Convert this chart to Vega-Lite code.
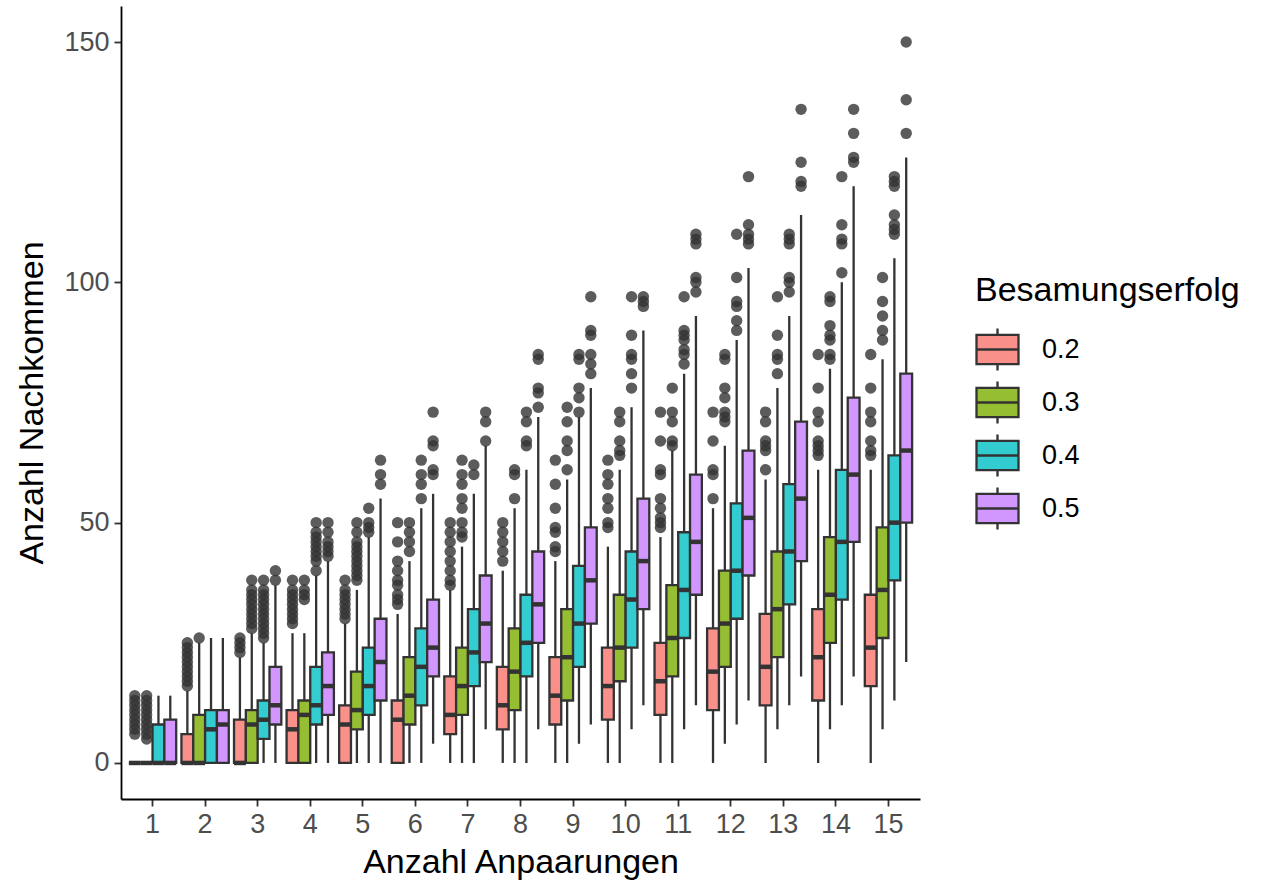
{
  "$schema": "https://vega.github.io/schema/vega-lite/v6.json",
  "width": 799,
  "height": 793,
  "autosize": {"type": "none"},
  "padding": {"left": 121, "top": 6, "right": 341, "bottom": 86},
  "background": "white",
  "config": {
    "view": {"stroke": null},
    "font": "Liberation Sans",
    "axis": {
      "grid": false,
      "domainColor": "black",
      "domainWidth": 1.8,
      "tickColor": "#333333",
      "tickWidth": 1.8,
      "tickSize": 7,
      "labelFont": "Liberation Sans",
      "labelFontSize": 27,
      "labelColor": "#4D4D4D",
      "titleFont": "Liberation Sans",
      "titleFontSize": 34,
      "titleFontWeight": "normal",
      "titleColor": "black"
    }
  },
  "datasets": {
    "boxes": [
      {"n":1,"g":"0.2","lo":0,"q1":0,"med":0,"q3":0,"hi":0},
      {"n":1,"g":"0.3","lo":0,"q1":0,"med":0,"q3":0,"hi":0},
      {"n":1,"g":"0.4","lo":0,"q1":0,"med":0,"q3":8,"hi":14},
      {"n":1,"g":"0.5","lo":0,"q1":0,"med":0,"q3":9,"hi":14},
      {"n":2,"g":"0.2","lo":0,"q1":0,"med":0,"q3":6,"hi":15},
      {"n":2,"g":"0.3","lo":0,"q1":0,"med":0,"q3":10,"hi":25},
      {"n":2,"g":"0.4","lo":0,"q1":0,"med":7,"q3":11,"hi":26},
      {"n":2,"g":"0.5","lo":0,"q1":0,"med":8,"q3":11,"hi":26},
      {"n":3,"g":"0.2","lo":0,"q1":0,"med":0,"q3":9,"hi":22},
      {"n":3,"g":"0.3","lo":0,"q1":0,"med":8,"q3":11,"hi":27},
      {"n":3,"g":"0.4","lo":0,"q1":5,"med":9,"q3":13,"hi":25},
      {"n":3,"g":"0.5","lo":0,"q1":8,"med":12,"q3":20,"hi":37},
      {"n":4,"g":"0.2","lo":0,"q1":0,"med":7,"q3":11,"hi":27},
      {"n":4,"g":"0.3","lo":0,"q1":0,"med":10,"q3":13,"hi":27},
      {"n":4,"g":"0.4","lo":0,"q1":8,"med":12,"q3":20,"hi":39},
      {"n":4,"g":"0.5","lo":0,"q1":10,"med":16,"q3":23,"hi":42},
      {"n":5,"g":"0.2","lo":0,"q1":0,"med":8,"q3":12,"hi":29},
      {"n":5,"g":"0.3","lo":0,"q1":7,"med":11,"q3":19,"hi":36},
      {"n":5,"g":"0.4","lo":0,"q1":10,"med":16,"q3":24,"hi":47},
      {"n":5,"g":"0.5","lo":0,"q1":13,"med":21,"q3":30,"hi":55},
      {"n":6,"g":"0.2","lo":0,"q1":0,"med":9,"q3":13,"hi":31},
      {"n":6,"g":"0.3","lo":0,"q1":8,"med":14,"q3":22,"hi":42},
      {"n":6,"g":"0.4","lo":0,"q1":12,"med":20,"q3":28,"hi":53},
      {"n":6,"g":"0.5","lo":4,"q1":18,"med":24,"q3":34,"hi":56},
      {"n":7,"g":"0.2","lo":0,"q1":6,"med":10,"q3":18,"hi":36},
      {"n":7,"g":"0.3","lo":0,"q1":10,"med":16,"q3":24,"hi":45},
      {"n":7,"g":"0.4","lo":0,"q1":16,"med":23,"q3":32,"hi":56},
      {"n":7,"g":"0.5","lo":7,"q1":21,"med":29,"q3":39,"hi":66},
      {"n":8,"g":"0.2","lo":0,"q1":7,"med":12,"q3":20,"hi":40},
      {"n":8,"g":"0.3","lo":0,"q1":11,"med":19,"q3":28,"hi":53},
      {"n":8,"g":"0.4","lo":0,"q1":18,"med":25,"q3":35,"hi":61},
      {"n":8,"g":"0.5","lo":7,"q1":25,"med":33,"q3":44,"hi":72},
      {"n":9,"g":"0.2","lo":0,"q1":8,"med":14,"q3":22,"hi":42},
      {"n":9,"g":"0.3","lo":0,"q1":13,"med":22,"q3":32,"hi":59},
      {"n":9,"g":"0.4","lo":4,"q1":20,"med":29,"q3":41,"hi":72},
      {"n":9,"g":"0.5","lo":8,"q1":29,"med":38,"q3":49,"hi":78},
      {"n":10,"g":"0.2","lo":0,"q1":9,"med":16,"q3":24,"hi":45},
      {"n":10,"g":"0.3","lo":0,"q1":17,"med":24,"q3":35,"hi":61},
      {"n":10,"g":"0.4","lo":7,"q1":24,"med":34,"q3":44,"hi":74},
      {"n":10,"g":"0.5","lo":12,"q1":32,"med":42,"q3":55,"hi":90},
      {"n":11,"g":"0.2","lo":0,"q1":10,"med":17,"q3":25,"hi":47},
      {"n":11,"g":"0.3","lo":0,"q1":18,"med":26,"q3":37,"hi":65},
      {"n":11,"g":"0.4","lo":7,"q1":26,"med":36,"q3":48,"hi":81},
      {"n":11,"g":"0.5","lo":12,"q1":35,"med":46,"q3":60,"hi":93},
      {"n":12,"g":"0.2","lo":0,"q1":11,"med":19,"q3":28,"hi":53},
      {"n":12,"g":"0.3","lo":4,"q1":20,"med":29,"q3":40,"hi":66},
      {"n":12,"g":"0.4","lo":8,"q1":30,"med":40,"q3":54,"hi":88},
      {"n":12,"g":"0.5","lo":13,"q1":39,"med":51,"q3":65,"hi":103},
      {"n":13,"g":"0.2","lo":0,"q1":12,"med":20,"q3":31,"hi":59},
      {"n":13,"g":"0.3","lo":7,"q1":22,"med":32,"q3":44,"hi":78},
      {"n":13,"g":"0.4","lo":12,"q1":33,"med":44,"q3":58,"hi":93},
      {"n":13,"g":"0.5","lo":18,"q1":42,"med":55,"q3":71,"hi":114},
      {"n":14,"g":"0.2","lo":0,"q1":13,"med":22,"q3":32,"hi":61},
      {"n":14,"g":"0.3","lo":7,"q1":25,"med":35,"q3":47,"hi":82},
      {"n":14,"g":"0.4","lo":12,"q1":34,"med":46,"q3":61,"hi":100},
      {"n":14,"g":"0.5","lo":18,"q1":46,"med":60,"q3":76,"hi":120},
      {"n":15,"g":"0.2","lo":0,"q1":16,"med":24,"q3":35,"hi":61},
      {"n":15,"g":"0.3","lo":7,"q1":26,"med":36,"q3":49,"hi":84},
      {"n":15,"g":"0.4","lo":13,"q1":38,"med":50,"q3":64,"hi":105},
      {"n":15,"g":"0.5","lo":21,"q1":50,"med":65,"q3":81,"hi":126}
    ],
    "outliers": [
      {"n":1,"g":"0.2","v":6},{"n":1,"g":"0.2","v":7},{"n":1,"g":"0.2","v":8},{"n":1,"g":"0.2","v":9},{"n":1,"g":"0.2","v":10},{"n":1,"g":"0.2","v":11},{"n":1,"g":"0.2","v":12},{"n":1,"g":"0.2","v":13},{"n":1,"g":"0.2","v":14},
      {"n":1,"g":"0.3","v":5},{"n":1,"g":"0.3","v":6},{"n":1,"g":"0.3","v":7},{"n":1,"g":"0.3","v":8},{"n":1,"g":"0.3","v":9},{"n":1,"g":"0.3","v":10},{"n":1,"g":"0.3","v":11},{"n":1,"g":"0.3","v":12},{"n":1,"g":"0.3","v":13},{"n":1,"g":"0.3","v":14},
      {"n":2,"g":"0.2","v":16},{"n":2,"g":"0.2","v":17},{"n":2,"g":"0.2","v":18},{"n":2,"g":"0.2","v":19},{"n":2,"g":"0.2","v":20},{"n":2,"g":"0.2","v":21},{"n":2,"g":"0.2","v":22},{"n":2,"g":"0.2","v":23},{"n":2,"g":"0.2","v":24},{"n":2,"g":"0.2","v":25},
      {"n":2,"g":"0.3","v":26},
      {"n":3,"g":"0.2","v":23},{"n":3,"g":"0.2","v":24},{"n":3,"g":"0.2","v":25},{"n":3,"g":"0.2","v":26},
      {"n":3,"g":"0.3","v":28},{"n":3,"g":"0.3","v":29},{"n":3,"g":"0.3","v":30},{"n":3,"g":"0.3","v":31},{"n":3,"g":"0.3","v":32},{"n":3,"g":"0.3","v":33},{"n":3,"g":"0.3","v":34},{"n":3,"g":"0.3","v":35},{"n":3,"g":"0.3","v":36},{"n":3,"g":"0.3","v":38},
      {"n":3,"g":"0.4","v":26},{"n":3,"g":"0.4","v":27},{"n":3,"g":"0.4","v":28},{"n":3,"g":"0.4","v":29},{"n":3,"g":"0.4","v":30},{"n":3,"g":"0.4","v":31},{"n":3,"g":"0.4","v":32},{"n":3,"g":"0.4","v":33},{"n":3,"g":"0.4","v":34},{"n":3,"g":"0.4","v":35},{"n":3,"g":"0.4","v":36},{"n":3,"g":"0.4","v":38},
      {"n":3,"g":"0.5","v":38},{"n":3,"g":"0.5","v":40},
      {"n":4,"g":"0.2","v":29},{"n":4,"g":"0.2","v":30},{"n":4,"g":"0.2","v":31},{"n":4,"g":"0.2","v":32},{"n":4,"g":"0.2","v":33},{"n":4,"g":"0.2","v":34},{"n":4,"g":"0.2","v":35},{"n":4,"g":"0.2","v":36},{"n":4,"g":"0.2","v":38},
      {"n":4,"g":"0.3","v":34},{"n":4,"g":"0.3","v":35},{"n":4,"g":"0.3","v":36},{"n":4,"g":"0.3","v":38},
      {"n":4,"g":"0.4","v":40},{"n":4,"g":"0.4","v":42},{"n":4,"g":"0.4","v":43},{"n":4,"g":"0.4","v":44},{"n":4,"g":"0.4","v":45},{"n":4,"g":"0.4","v":46},{"n":4,"g":"0.4","v":47},{"n":4,"g":"0.4","v":48},{"n":4,"g":"0.4","v":50},
      {"n":4,"g":"0.5","v":43},{"n":4,"g":"0.5","v":44},{"n":4,"g":"0.5","v":45},{"n":4,"g":"0.5","v":46},{"n":4,"g":"0.5","v":48},{"n":4,"g":"0.5","v":50},
      {"n":5,"g":"0.2","v":30},{"n":5,"g":"0.2","v":31},{"n":5,"g":"0.2","v":32},{"n":5,"g":"0.2","v":33},{"n":5,"g":"0.2","v":34},{"n":5,"g":"0.2","v":35},{"n":5,"g":"0.2","v":36},{"n":5,"g":"0.2","v":38},
      {"n":5,"g":"0.3","v":38},{"n":5,"g":"0.3","v":39},{"n":5,"g":"0.3","v":40},{"n":5,"g":"0.3","v":41},{"n":5,"g":"0.3","v":42},{"n":5,"g":"0.3","v":43},{"n":5,"g":"0.3","v":44},{"n":5,"g":"0.3","v":45},{"n":5,"g":"0.3","v":46},{"n":5,"g":"0.3","v":48},{"n":5,"g":"0.3","v":50},
      {"n":5,"g":"0.4","v":48},{"n":5,"g":"0.4","v":49},{"n":5,"g":"0.4","v":50},{"n":5,"g":"0.4","v":53},
      {"n":5,"g":"0.5","v":58},{"n":5,"g":"0.5","v":60},{"n":5,"g":"0.5","v":63},
      {"n":6,"g":"0.2","v":33},{"n":6,"g":"0.2","v":34},{"n":6,"g":"0.2","v":35},{"n":6,"g":"0.2","v":37},{"n":6,"g":"0.2","v":38},{"n":6,"g":"0.2","v":40},{"n":6,"g":"0.2","v":42},{"n":6,"g":"0.2","v":46},{"n":6,"g":"0.2","v":50},
      {"n":6,"g":"0.3","v":44},{"n":6,"g":"0.3","v":46},{"n":6,"g":"0.3","v":48},{"n":6,"g":"0.3","v":50},
      {"n":6,"g":"0.4","v":55},{"n":6,"g":"0.4","v":58},{"n":6,"g":"0.4","v":60},{"n":6,"g":"0.4","v":63},
      {"n":6,"g":"0.5","v":60},{"n":6,"g":"0.5","v":61},{"n":6,"g":"0.5","v":66},{"n":6,"g":"0.5","v":67},{"n":6,"g":"0.5","v":73},
      {"n":7,"g":"0.2","v":37},{"n":7,"g":"0.2","v":38},{"n":7,"g":"0.2","v":40},{"n":7,"g":"0.2","v":42},{"n":7,"g":"0.2","v":44},{"n":7,"g":"0.2","v":46},{"n":7,"g":"0.2","v":48},{"n":7,"g":"0.2","v":50},
      {"n":7,"g":"0.3","v":47},{"n":7,"g":"0.3","v":48},{"n":7,"g":"0.3","v":50},{"n":7,"g":"0.3","v":53},{"n":7,"g":"0.3","v":55},{"n":7,"g":"0.3","v":58},{"n":7,"g":"0.3","v":60},{"n":7,"g":"0.3","v":63},
      {"n":7,"g":"0.4","v":60},{"n":7,"g":"0.4","v":62},
      {"n":7,"g":"0.5","v":67},{"n":7,"g":"0.5","v":71},{"n":7,"g":"0.5","v":73},
      {"n":8,"g":"0.2","v":42},{"n":8,"g":"0.2","v":44},{"n":8,"g":"0.2","v":46},{"n":8,"g":"0.2","v":48},{"n":8,"g":"0.2","v":50},
      {"n":8,"g":"0.3","v":55},{"n":8,"g":"0.3","v":60},{"n":8,"g":"0.3","v":61},
      {"n":8,"g":"0.4","v":66},{"n":8,"g":"0.4","v":67},{"n":8,"g":"0.4","v":71},{"n":8,"g":"0.4","v":73},
      {"n":8,"g":"0.5","v":74},{"n":8,"g":"0.5","v":77},{"n":8,"g":"0.5","v":78},{"n":8,"g":"0.5","v":84},{"n":8,"g":"0.5","v":85},
      {"n":9,"g":"0.2","v":44},{"n":9,"g":"0.2","v":45},{"n":9,"g":"0.2","v":48},{"n":9,"g":"0.2","v":49},{"n":9,"g":"0.2","v":53},{"n":9,"g":"0.2","v":58},{"n":9,"g":"0.2","v":63},
      {"n":9,"g":"0.3","v":61},{"n":9,"g":"0.3","v":65},{"n":9,"g":"0.3","v":67},{"n":9,"g":"0.3","v":71},{"n":9,"g":"0.3","v":74},
      {"n":9,"g":"0.4","v":73},{"n":9,"g":"0.4","v":76},{"n":9,"g":"0.4","v":78},{"n":9,"g":"0.4","v":84},{"n":9,"g":"0.4","v":85},
      {"n":9,"g":"0.5","v":81},{"n":9,"g":"0.5","v":83},{"n":9,"g":"0.5","v":85},{"n":9,"g":"0.5","v":89},{"n":9,"g":"0.5","v":90},{"n":9,"g":"0.5","v":97},
      {"n":10,"g":"0.2","v":49},{"n":10,"g":"0.2","v":50},{"n":10,"g":"0.2","v":53},{"n":10,"g":"0.2","v":55},{"n":10,"g":"0.2","v":58},{"n":10,"g":"0.2","v":60},{"n":10,"g":"0.2","v":63},
      {"n":10,"g":"0.3","v":64},{"n":10,"g":"0.3","v":65},{"n":10,"g":"0.3","v":67},{"n":10,"g":"0.3","v":71},{"n":10,"g":"0.3","v":73},
      {"n":10,"g":"0.4","v":78},{"n":10,"g":"0.4","v":81},{"n":10,"g":"0.4","v":84},{"n":10,"g":"0.4","v":85},{"n":10,"g":"0.4","v":89},{"n":10,"g":"0.4","v":97},
      {"n":10,"g":"0.5","v":95},{"n":10,"g":"0.5","v":96},{"n":10,"g":"0.5","v":97},
      {"n":11,"g":"0.2","v":49},{"n":11,"g":"0.2","v":50},{"n":11,"g":"0.2","v":51},{"n":11,"g":"0.2","v":53},{"n":11,"g":"0.2","v":55},{"n":11,"g":"0.2","v":60},{"n":11,"g":"0.2","v":61},{"n":11,"g":"0.2","v":67},{"n":11,"g":"0.2","v":73},
      {"n":11,"g":"0.3","v":66},{"n":11,"g":"0.3","v":67},{"n":11,"g":"0.3","v":71},{"n":11,"g":"0.3","v":73},{"n":11,"g":"0.3","v":78},
      {"n":11,"g":"0.4","v":83},{"n":11,"g":"0.4","v":85},{"n":11,"g":"0.4","v":86},{"n":11,"g":"0.4","v":88},{"n":11,"g":"0.4","v":89},{"n":11,"g":"0.4","v":90},{"n":11,"g":"0.4","v":97},
      {"n":11,"g":"0.5","v":98},{"n":11,"g":"0.5","v":100},{"n":11,"g":"0.5","v":101},{"n":11,"g":"0.5","v":108},{"n":11,"g":"0.5","v":109},{"n":11,"g":"0.5","v":110},
      {"n":12,"g":"0.2","v":55},{"n":12,"g":"0.2","v":60},{"n":12,"g":"0.2","v":61},{"n":12,"g":"0.2","v":67},{"n":12,"g":"0.2","v":73},
      {"n":12,"g":"0.3","v":71},{"n":12,"g":"0.3","v":72},{"n":12,"g":"0.3","v":73},{"n":12,"g":"0.3","v":76},{"n":12,"g":"0.3","v":78},{"n":12,"g":"0.3","v":84},{"n":12,"g":"0.3","v":85},
      {"n":12,"g":"0.4","v":90},{"n":12,"g":"0.4","v":92},{"n":12,"g":"0.4","v":95},{"n":12,"g":"0.4","v":96},{"n":12,"g":"0.4","v":101},{"n":12,"g":"0.4","v":110},
      {"n":12,"g":"0.5","v":108},{"n":12,"g":"0.5","v":109},{"n":12,"g":"0.5","v":110},{"n":12,"g":"0.5","v":112},{"n":12,"g":"0.5","v":122},
      {"n":13,"g":"0.2","v":61},{"n":13,"g":"0.2","v":65},{"n":13,"g":"0.2","v":66},{"n":13,"g":"0.2","v":67},{"n":13,"g":"0.2","v":71},{"n":13,"g":"0.2","v":73},
      {"n":13,"g":"0.3","v":81},{"n":13,"g":"0.3","v":84},{"n":13,"g":"0.3","v":85},{"n":13,"g":"0.3","v":89},{"n":13,"g":"0.3","v":97},
      {"n":13,"g":"0.4","v":98},{"n":13,"g":"0.4","v":100},{"n":13,"g":"0.4","v":101},{"n":13,"g":"0.4","v":108},{"n":13,"g":"0.4","v":109},{"n":13,"g":"0.4","v":110},
      {"n":13,"g":"0.5","v":120},{"n":13,"g":"0.5","v":121},{"n":13,"g":"0.5","v":125},{"n":13,"g":"0.5","v":136},
      {"n":14,"g":"0.2","v":64},{"n":14,"g":"0.2","v":65},{"n":14,"g":"0.2","v":66},{"n":14,"g":"0.2","v":67},{"n":14,"g":"0.2","v":71},{"n":14,"g":"0.2","v":73},{"n":14,"g":"0.2","v":78},{"n":14,"g":"0.2","v":85},
      {"n":14,"g":"0.3","v":84},{"n":14,"g":"0.3","v":85},{"n":14,"g":"0.3","v":88},{"n":14,"g":"0.3","v":89},{"n":14,"g":"0.3","v":91},{"n":14,"g":"0.3","v":96},{"n":14,"g":"0.3","v":97},
      {"n":14,"g":"0.4","v":102},{"n":14,"g":"0.4","v":108},{"n":14,"g":"0.4","v":109},{"n":14,"g":"0.4","v":112},{"n":14,"g":"0.4","v":122},
      {"n":14,"g":"0.5","v":125},{"n":14,"g":"0.5","v":126},{"n":14,"g":"0.5","v":131},{"n":14,"g":"0.5","v":136},
      {"n":15,"g":"0.2","v":64},{"n":15,"g":"0.2","v":65},{"n":15,"g":"0.2","v":67},{"n":15,"g":"0.2","v":71},{"n":15,"g":"0.2","v":73},{"n":15,"g":"0.2","v":78},{"n":15,"g":"0.2","v":85},
      {"n":15,"g":"0.3","v":88},{"n":15,"g":"0.3","v":90},{"n":15,"g":"0.3","v":93},{"n":15,"g":"0.3","v":96},{"n":15,"g":"0.3","v":101},
      {"n":15,"g":"0.4","v":110},{"n":15,"g":"0.4","v":111},{"n":15,"g":"0.4","v":112},{"n":15,"g":"0.4","v":114},{"n":15,"g":"0.4","v":120},{"n":15,"g":"0.4","v":121},{"n":15,"g":"0.4","v":122},
      {"n":15,"g":"0.5","v":131},{"n":15,"g":"0.5","v":138},{"n":15,"g":"0.5","v":150}
    ]
  },
  "encoding": {
    "x": {
      "field": "n", "type": "ordinal",
      "scale": {"domain": [1,2,3,4,5,6,7,8,9,10,11,12,13,14,15], "paddingInner": 0, "paddingOuter": 0.1},
      "axis": {"title": "Anzahl Anpaarungen", "labelAngle": 0, "labelPadding": 5, "titlePadding": 8},
      "title": "Anzahl Anpaarungen"
    },
    "xOffset": {
      "field": "g", "type": "nominal",
      "scale": {"domain": ["0.2","0.3","0.4","0.5"], "paddingInner": 0, "paddingOuter": 0.222}
    }
  },
  "layer": [
    {
      "data": {"name": "boxes"},
      "mark": {"type": "rule", "color": "#333333", "strokeWidth": 2.3},
      "encoding": {
        "y": {"field": "lo", "type": "quantitative",
          "scale": {"domain": [-7.5, 157.5], "nice": false, "zero": false},
          "axis": {"title": "Anzahl Nachkommen", "values": [0,50,100,150], "labelPadding": 5, "titlePadding": 14}},
        "y2": {"field": "hi"}
      }
    },
    {
      "data": {"name": "boxes"},
      "mark": {"type": "bar", "stroke": "#333333", "strokeWidth": 2.3, "fillOpacity": 1},
      "encoding": {
        "y": {"field": "q1", "type": "quantitative"},
        "y2": {"field": "q3"},
        "fill": {
          "field": "g", "type": "nominal",
          "scale": {"domain": ["0.2","0.3","0.4","0.5"], "range": ["#F9918A", "#96BE33", "#33CCD0", "#D296FF"]},
          "legend": {
            "title": "Besamungserfolg",
            "orient": "none",
            "legendX": 854,
            "legendY": 268,
            "padding": 0,
            "titleFont": "Liberation Sans",
            "titleFontSize": 34,
            "titleFontWeight": "normal",
            "titleColor": "black",
            "titleLimit": 500,
            "titlePadding": 19,
            "labelFont": "Liberation Sans",
            "labelFontSize": 27,
            "labelColor": "black",
            "labelOffset": 22,
            "rowPadding": 0,
            "symbolType": "M-1,-0.7H1V0.7H-1ZM-1,0H1M0,-0.7V-1M0,0.7V1",
            "symbolSize": 1764,
            "symbolStrokeColor": "#333333",
            "symbolStrokeWidth": 2.3,
            "symbolOpacity": 1,
            "encode": {"symbols": {"update": {"stroke": {"value": "#333333"}, "strokeWidth": {"value": 2.3}, "opacity": {"value": 1}}}}
          }
        }
      }
    },
    {
      "data": {"name": "boxes"},
      "mark": {"type": "tick", "color": "#333333", "size": 11.8, "thickness": 4.5, "opacity": 1},
      "encoding": {
        "y": {"field": "med", "type": "quantitative"}
      }
    },
    {
      "data": {"name": "outliers"},
      "mark": {"type": "point", "filled": true, "size": 130, "color": "#333333", "opacity": 0.8},
      "encoding": {
        "y": {"field": "v", "type": "quantitative"}
      }
    }
  ]
}
